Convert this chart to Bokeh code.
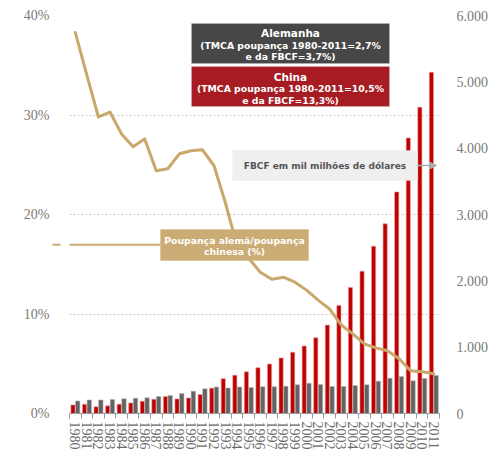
import math
from bokeh.plotting import figure
from bokeh.models import (Range1d, LinearAxis, FixedTicker, BoxAnnotation, Label,
                          Arrow, NormalHead, ColumnDataSource, Span)
from bokeh.transform import dodge
from bokeh.embed import file_html
from bokeh.resources import INLINE

# ---------------- data ----------------
years = list(range(1980, 2012))
china_fbcf = [130, 140, 100, 115, 140, 160, 185, 215, 255, 220, 235, 285, 382, 525,
              578, 628, 690, 745, 838, 925, 1018, 1142, 1333, 1630, 1900, 2145,
              2522, 2860, 3340, 4155, 4617, 5145]
germany_fbcf = [190, 205, 205, 210, 222, 230, 236, 256, 270, 300, 337, 372, 400, 385,
                400, 392, 402, 402, 412, 433, 456, 438, 407, 407, 422, 433,
                488, 533, 558, 493, 528, 573]
ratio_pct = [38.3, 34.0, 29.8, 30.3, 28.1, 26.8, 27.6, 24.4, 24.6, 26.1, 26.4, 26.5,
             24.9, 21.1, 16.8, 15.6, 14.2, 13.5, 13.7, 13.2, 12.4, 11.4, 10.5, 8.9,
             8.0, 7.0, 6.6, 6.3, 5.5, 4.3, 4.2, 4.0]
left_ticks = [0, 10, 20, 30, 40]
left_labels = ["0%", "10%", "20%", "30%", "40%"]
right_ticks = [0, 1000, 2000, 3000, 4000, 5000, 6000]
right_labels = ["0", "1.000", "2.000", "3.000", "4.000", "5.000", "6.000"]

idx = list(range(len(years)))

# ---------------- layout helpers (page px -> data) ----------------
W, H = 499, 452
FL, FR, FT, FB = 69, 439, 15, 413
def dx(px):
    return -0.5 + (px - FL) / (FR - FL) * len(years)
def dy(py):
    return (FB - py) / (FB - FT) * 40.0

p = figure(width=W, height=H, x_range=Range1d(-0.5, len(years) - 0.5),
           y_range=Range1d(0, 40), output_backend="svg", toolbar_location=None,
           min_border_left=FL, min_border_right=W - FR, min_border_top=FT,
           min_border_bottom=H - FB)
p.outline_line_color = None
p.background_fill_color = "white"
p.extra_y_ranges = {"fbcf": Range1d(0, 6000)}

serif = "Liberation Serif"
grey_txt = "#7a7a7a"

# left axis
ya = p.yaxis[0]
ya.ticker = FixedTicker(ticks=left_ticks)
ya.major_label_overrides = {t: l for t, l in zip(left_ticks, left_labels)}
ya.axis_line_color = None
ya.major_tick_line_color = None
ya.minor_tick_line_color = None
ya.major_label_text_font = serif
ya.major_label_text_font_size = "14px"
ya.major_label_text_color = grey_txt
ya.major_label_standoff = 14

# right axis
ra = LinearAxis(y_range_name="fbcf", ticker=FixedTicker(ticks=right_ticks))
ra.major_label_overrides = {t: l for t, l in zip(right_ticks, right_labels)}
ra.axis_line_color = None
ra.major_tick_line_color = None
ra.minor_tick_line_color = None
ra.major_label_text_font = serif
ra.major_label_text_font_size = "14px"
ra.major_label_text_color = grey_txt
ra.major_label_standoff = 11
p.add_layout(ra, "right")

# x axis
xa = p.xaxis[0]
xa.ticker = FixedTicker(ticks=idx, minor_ticks=[i - 0.5 for i in range(len(years) + 1)])
xa.major_label_overrides = {i: str(y) for i, y in zip(idx, years)}
xa.major_tick_out = 0
xa.major_tick_in = 0
xa.minor_tick_out = 5
xa.minor_tick_in = 0
xa.minor_tick_line_color = "#999999"
xa.axis_line_color = "#999999"
xa.major_label_orientation = "vertical"
xa.major_label_text_font = serif
xa.major_label_text_font_size = "14px"
xa.major_label_text_color = "#6a6a6a"
xa.major_label_standoff = 3

# grid
p.xgrid.visible = False
p.ygrid.ticker = FixedTicker(ticks=left_ticks[1:])
p.ygrid.grid_line_color = "#c8c8c8"
p.ygrid.grid_line_dash = "2 2"

# bars
src = ColumnDataSource(dict(x=idx, china=china_fbcf, germany=germany_fbcf, ratio=ratio_pct))
p.vbar(x=dodge("x", -0.2, range=p.x_range), top="china", width=0.36, bottom=0,
       source=src, y_range_name="fbcf", fill_color="#c00000", line_color="#e89a9a",
       line_width=0.6)
p.vbar(x=dodge("x", 0.21, range=p.x_range), top="germany", width=0.38, bottom=0,
       source=src, y_range_name="fbcf", fill_color="#636363", line_color="#b5b5b5",
       line_width=0.6)

# ratio line
p.line(x="x", y="ratio", source=src, line_color="#c9a86c", line_width=3,
       line_join="round", line_cap="round")

# ---------------- annotations ----------------
bold_font = "DejaVu Sans"

def box(l, r, t, b, fill, line="#c9c9c9"):
    p.add_layout(BoxAnnotation(left=dx(l), right=dx(r), top=dy(t), bottom=dy(b),
                               fill_color=fill, fill_alpha=1.0, line_color=line,
                               line_width=1, level="annotation"))

def txt(text, px, py, size, color="white"):
    p.add_layout(Label(x=dx(px), y=dy(py), text=text, text_font=bold_font,
                       text_font_style="bold", text_font_size=size, text_color=color,
                       text_align="center", text_baseline="middle"))

# outer dashed frame of the slide (left and top edges)
p.add_layout(Arrow(end=None, x_start=dx(6.5), y_start=dy(1.5), x_end=dx(6.5), y_end=dy(452),
                   line_color="#b0b0b0", line_width=1, line_dash="3 2"))
p.add_layout(Arrow(end=None, x_start=dx(6.5), y_start=dy(1.5), x_end=dx(499), y_end=dy(1.5),
                   line_color="#b0b0b0", line_width=1, line_dash="3 2"))

# Alemanha
box(191, 389, 23, 63, "#474747")
txt("Alemanha", 290, 32.5, "10.5px")
txt("(TMCA poupança 1980-2011=2,7%", 290, 45, "9.3px")
txt("e da FBCF=3,7%)", 290, 56, "9.3px")

# China
box(191, 389, 66, 106, "#a61c22")
txt("China", 290, 76, "10.5px")
txt("(TMCA poupança 1980-2011=10,5%", 290, 88, "9.3px")
txt("e da FBCF=13,3%)", 290, 99.5, "9.3px")

# FBCF label + arrow
box(232, 417, 150, 180, "#efefef", line="#efefef")
txt("FBCF em mil milhões de dólares", 324.5, 165, "9px", color="#555555")
p.add_layout(Arrow(end=NormalHead(size=7, fill_color="#aaaaaa", line_color="#aaaaaa"),
                   x_start=dx(417), y_start=dy(165), x_end=dx(436), y_end=dy(165),
                   line_color="#aaaaaa", line_width=1.5))

# ratio label + arrow
box(160, 308, 229, 260, "#cbac74", line="#cbac74")
txt("Poupança alemã/poupança", 234, 239.5, "9.3px")
txt("chinesa (%)", 234, 251, "9.3px")
p.add_layout(Arrow(end=NormalHead(size=8, fill_color="#cbac74", line_color="#cbac74"),
                   x_start=dx(160), y_start=dy(244.3), x_end=dx(52), y_end=dy(244.3),
                   line_color="#cbac74", line_width=2))

open("out.html", "w").write(file_html(p, INLINE))
